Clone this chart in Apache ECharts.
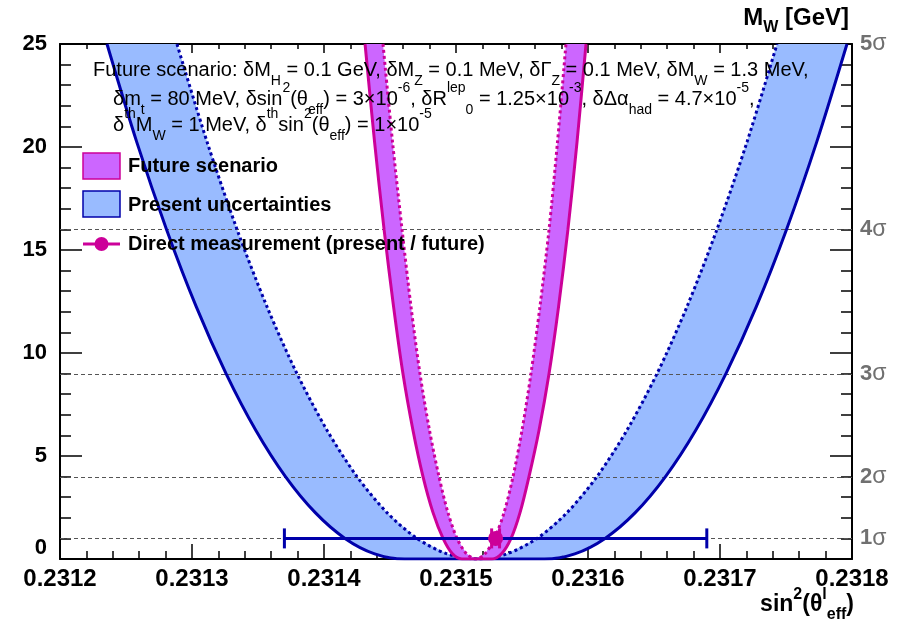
<!DOCTYPE html>
<html><head><meta charset="utf-8">
<script src="https://cdn.jsdelivr.net/npm/echarts@6/dist/echarts.min.js"></script>
<style>html,body{margin:0;padding:0;background:#fff}#c{width:898px;height:641px}</style>
</head><body><div id="c"></div>
<script>
// ---- axes ----
const xMin = 0.2312, xMax = 0.2318, xStep = 0.0001;
const yMin = 0, yMax = 25, yStep = 5;
const sigmaLevels = [1, 4, 9, 16, 25];
const sigmaNames = ['1', '2', '3', '4', '5'];
const gridLevels = [1, 4, 9, 16];

// ---- Delta chi2 levels at which curve positions were read ----
const chi2Down = [25, 20.25, 16, 12.25, 9, 6.25, 4, 2.25, 1, 0.25, 0];
const chi2Up = [0, 0.25, 1, 2.25, 4, 6.25, 9, 12.25, 16, 20.25, 25];

// ---- Present uncertainties (blue) ----
const presentSolidLeft = [0.2312356, 0.2312581, 0.2312807, 0.2313032, 0.2313258, 0.2313483, 0.2313708, 0.2313934, 0.2314159, 0.2314384, 0.2314610];
const presentSolidRight = [0.2315670, 0.2315900, 0.2316129, 0.2316358, 0.2316587, 0.2316816, 0.2317045, 0.2317275, 0.2317504, 0.2317733, 0.2317962];
const presentDashedLeft = [0.2312886, 0.2313114, 0.2313341, 0.2313568, 0.2313795, 0.2314023, 0.2314250, 0.2314477, 0.2314705, 0.2314932, 0.2315159];
const presentDashedRight = [0.2315386, 0.2315614, 0.2315841, 0.2316068, 0.2316295, 0.2316523, 0.2316750, 0.2316977, 0.2317205, 0.2317432];

// ---- Future scenario (magenta) ----
const futureSolidLeft = [0.2314311, 0.2314383, 0.2314455, 0.2314527, 0.2314598, 0.2314674, 0.2314750, 0.2314826, 0.2314902, 0.2314973, 0.2315045];
const futureSolidRight = [0.2315273, 0.2315345, 0.2315417, 0.2315485, 0.2315553, 0.2315629, 0.2315705, 0.2315777, 0.2315848, 0.2315917, 0.2315985];
const futureDashedLeft = [0.2314447, 0.2314519, 0.2314591, 0.2314659, 0.2314727, 0.2314799, 0.2314871, 0.2314939, 0.2315008, 0.2315080, 0.2315152];
const futureDashedRight = [0.2315220, 0.2315292, 0.2315364, 0.2315432, 0.2315500, 0.2315568, 0.2315636, 0.2315705, 0.2315769, 0.2315833];

// ---- Direct measurement ----
const directValue = 0.23153;
const directChi2 = 1;
const directErrPresent = 0.00016;
const directErrFuture = 0.000003;

// ---- styling ----
const FONT = '"Liberation Sans", Arial, Helvetica, sans-serif';
const blueLine = '#0000aa', blueFill = '#99bbff';
const magLine = '#cc0099', magFill = '#cc66ff';
const gridGray = '#555555', sigmaGray = '#707070';

function curve(left, right) {
  const pts = left.map((x, i) => [x, chi2Down[chi2Down.length - left.length + i]]);
  return pts.concat(right.map((x, i) => [x, chi2Up[chi2Up.length - right.length + i]]));
}
const presentSolid = curve(presentSolidLeft, presentSolidRight);
const presentDashed = curve(presentDashedLeft, presentDashedRight);
const futureSolid = curve(futureSolidLeft, futureSolidRight);
const futureDashed = curve(futureDashedLeft, futureDashedRight);
const presentBand = presentDashed.concat(presentSolid.slice().reverse());
const futureBand = futureDashed.concat(futureSolid.slice().reverse());

function bandSeries(poly, color, z) {
  return {
    type: 'custom', z: z, silent: true, data: [[xMin, 0]],
    renderItem: (params, api) => ({
      type: 'polygon',
      shape: { points: poly.map(p => api.coord(p)) },
      style: { fill: color }
    })
  };
}
function lineSeries(data, color, dashed, z) {
  return {
    type: 'line', z: z, silent: true, data: data, showSymbol: false, smooth: 0.3,
    lineStyle: { color: color, width: 3, type: dashed ? [3, 3] : 'solid', cap: 'butt' }
  };
}
function errSeries(err, color, z) {
  return {
    type: 'custom', z: z, silent: true,
    data: [[directValue, directChi2, directValue - err, directValue + err]],
    renderItem: (params, api) => {
      const a = api.coord([api.value(2), api.value(1)]);
      const b = api.coord([api.value(3), api.value(1)]);
      const st = { stroke: color, lineWidth: 3 };
      return { type: 'group', children: [
        { type: 'line', shape: { x1: a[0], y1: a[1], x2: b[0], y2: b[1] }, style: st },
        { type: 'line', shape: { x1: a[0], y1: a[1] - 10, x2: a[0], y2: a[1] + 10 }, style: st },
        { type: 'line', shape: { x1: b[0], y1: b[1] - 10, x2: b[0], y2: b[1] + 10 }, style: st }
      ]};
    }
  };
}

const chart = echarts.init(document.getElementById('c'), null, { renderer: 'canvas' });

const axisLineStyle = { show: true, onZero: false, lineStyle: { color: '#000', width: 2 } };
const subRich = {
  sub: { fontSize: 14, lineHeight: 14, verticalAlign: 'bottom', fontFamily: FONT },
  sup: { fontSize: 14, lineHeight: 14, verticalAlign: 'top', fontFamily: FONT }
};
const subRichBold = {
  sub: { fontSize: 16, lineHeight: 14, verticalAlign: 'bottom', fontFamily: FONT, fontWeight: 'bold' },
  sup: { fontSize: 16, lineHeight: 14, verticalAlign: 'top', fontFamily: FONT, fontWeight: 'bold' }
};
function infoText(x, y, txt) {
  return { type: 'text', x: x, y: y, z: 100, silent: true,
    style: { text: txt, fontFamily: FONT, fontSize: 20, lineHeight: 36, fill: '#000',
      align: 'left', verticalAlign: 'middle', rich: subRich } };
}

const option = {
  animation: false,
  grid: { left: 60, right: 46, top: 44, bottom: 82, containLabel: false, outerBoundsMode: 'none' },
  xAxis: [
    { type: 'value', position: 'bottom', min: xMin, max: xMax, interval: xStep,
      axisLine: axisLineStyle,
      axisTick: { show: true, inside: true, length: 15, lineStyle: { color: '#000', width: 1.5 } },
      minorTick: { show: true, splitNumber: 5, length: 8, lineStyle: { color: '#000', width: 1.5 } },
      axisLabel: { show: true, margin: 8, fontFamily: FONT, fontWeight: 'bold', fontSize: 24, color: '#000',
        formatter: v => v.toFixed(4) },
      splitLine: { show: false } },
    { type: 'value', position: 'top', min: xMin, max: xMax, interval: xStep,
      axisLine: axisLineStyle,
      axisTick: { show: true, inside: true, length: 9, lineStyle: { color: '#000', width: 1.5 } },
      minorTick: { show: true, splitNumber: 5, length: 5, lineStyle: { color: '#000', width: 1.5 } },
      axisLabel: { show: false }, splitLine: { show: false } }
  ],
  yAxis: [
    { type: 'value', position: 'left', min: yMin, max: yMax, interval: yStep,
      axisLine: axisLineStyle,
      axisTick: { show: true, inside: true, length: 22, lineStyle: { color: '#000', width: 1.5 } },
      minorTick: { show: true, splitNumber: 5, length: 11, lineStyle: { color: '#000', width: 1.5 } },
      axisLabel: { show: true, margin: 13, fontFamily: FONT, fontWeight: 'bold', fontSize: 22, color: '#000',
        formatter: v => v === 0 ? '{z|0}' : String(v),
        rich: { z: { padding: [0, 0, 22, 0], fontFamily: FONT, fontWeight: 'bold', fontSize: 22, color: '#000' } } },
      splitLine: { show: false } },
    { type: 'value', position: 'right', min: yMin, max: yMax, interval: yStep,
      axisLine: axisLineStyle,
      axisTick: { show: true, inside: true, length: 22, lineStyle: { color: '#000', width: 1.5 } },
      minorTick: { show: true, splitNumber: 5, length: 11, lineStyle: { color: '#000', width: 1.5 } },
      axisLabel: { show: true, margin: 8, customValues: sigmaLevels,
        formatter: v => { const i = sigmaLevels.indexOf(v); return i >= 0 ? '{n|' + sigmaNames[i] + '}{s|σ}' : ''; },
        rich: {
          n: { fontFamily: FONT, fontWeight: 'bold', fontSize: 22, color: sigmaGray },
          s: { fontFamily: FONT, fontSize: 23, color: sigmaGray }
        } },
      splitLine: { show: false } }
  ],
  series: [
    bandSeries(presentBand, blueFill, 1),
    {
      type: 'custom', z: 2, silent: true,
      data: gridLevels.map(v => [xMin, v]),
      renderItem: (params, api) => {
        const a = api.coord([xMin, api.value(1)]);
        const b = api.coord([xMax, api.value(1)]);
        return { type: 'line', shape: { x1: a[0], y1: Math.round(a[1]) + 0.5, x2: b[0], y2: Math.round(b[1]) + 0.5 },
          style: { stroke: gridGray, lineWidth: 1, lineDash: [4, 3] } };
      }
    },
    lineSeries(presentSolid, blueLine, false, 3),
    lineSeries(presentDashed, blueLine, true, 3),
    bandSeries(futureBand, magFill, 4),
    lineSeries(futureSolid, magLine, false, 5),
    lineSeries(futureDashed, magLine, true, 5),
    errSeries(directErrPresent, blueLine, 6),
    errSeries(directErrFuture, magLine, 7),
    { type: 'scatter', z: 8, silent: true, clip: false, data: [[directValue, directChi2]], symbol: 'circle', symbolSize: 15,
      itemStyle: { color: magLine, opacity: 1 } }
  ],
  graphic: [
    infoText(93, 70, 'Future scenario: δM{sub|H} = 0.1 GeV, δM{sub|Z} = 0.1 MeV, δΓ{sub|Z} = 0.1 MeV, δM{sub|W} = 1.3 MeV,'),
    infoText(113, 99, 'δm{sub|t} = 80 MeV, δsin{sup|2}(θ{sub|eff}) = 3×10{sup|-6}, δR{sup|lep}{sub|0} = 1.25×10{sup|-3}, δΔα{sub|had} = 4.7×10{sup|-5},'),
    infoText(113, 125, 'δ{sup|th}M{sub|W} = 1 MeV, δ{sup|th}sin{sup|2}(θ{sub|eff}) = 1×10{sup|-5}'),
    // legend
    { type: 'rect', z: 100, silent: true, shape: { x: 83, y: 153, width: 37, height: 26 },
      style: { fill: magFill, stroke: magLine, lineWidth: 1.5 } },
    { type: 'rect', z: 100, silent: true, shape: { x: 83, y: 191, width: 37, height: 26 },
      style: { fill: blueFill, stroke: blueLine, lineWidth: 1.5 } },
    { type: 'line', z: 100, silent: true, shape: { x1: 83, y1: 244, x2: 120, y2: 244 },
      style: { stroke: magLine, lineWidth: 3 } },
    { type: 'circle', z: 100, silent: true, shape: { cx: 101.5, cy: 244, r: 7 }, style: { fill: magLine } },
    { type: 'text', z: 100, silent: true, x: 128, y: 166,
      style: { text: 'Future scenario', fontFamily: FONT, fontWeight: 'bold', fontSize: 20, fill: '#000', verticalAlign: 'middle' } },
    { type: 'text', z: 100, silent: true, x: 128, y: 205,
      style: { text: 'Present uncertainties', fontFamily: FONT, fontWeight: 'bold', fontSize: 20, fill: '#000', verticalAlign: 'middle' } },
    { type: 'text', z: 100, silent: true, x: 128, y: 244,
      style: { text: 'Direct measurement (present / future)', fontFamily: FONT, fontWeight: 'bold', fontSize: 20, fill: '#000', verticalAlign: 'middle' } },
    // titles
    { type: 'text', z: 100, silent: true, x: 849, y: 18,
      style: { text: 'M{sub|W} [GeV]', fontFamily: FONT, fontWeight: 'bold', fontSize: 24, lineHeight: 36, fill: '#000',
        align: 'right', verticalAlign: 'middle', rich: subRichBold } },
    { type: 'text', z: 100, silent: true, x: 854, y: 605,
      style: { text: 'sin{sup|2}(θ{sup|l}{sub|eff})', fontFamily: FONT, fontWeight: 'bold', fontSize: 23, lineHeight: 36, fill: '#000',
        align: 'right', verticalAlign: 'middle', rich: subRichBold } }
  ]
};
chart.setOption(option);
</script>
</body></html>
